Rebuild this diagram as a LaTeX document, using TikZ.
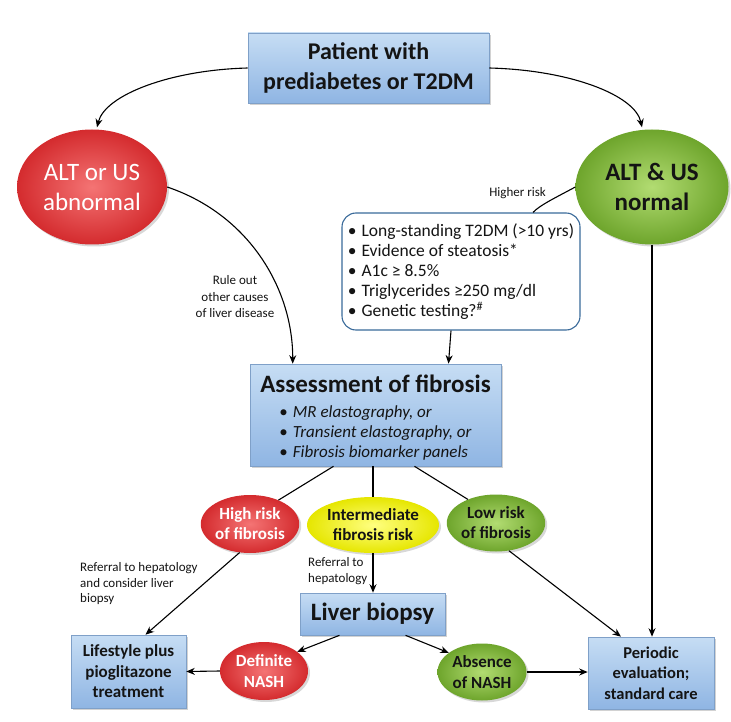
\documentclass[tikz,border=0pt]{standalone}
\usepackage{fontspec}
\setmainfont{Carlito}
\usetikzlibrary{shapes.geometric,arrows.meta,shadows,calc}
\newcommand\myfs[2]{\fontsize{#1}{#2}\selectfont}
\definecolor{boxtop}{HTML}{C6DDF4}
\definecolor{boxbot}{HTML}{8FB5E3}
\definecolor{boxline}{HTML}{7FA0C8}
\definecolor{critline}{HTML}{3A6A9A}
\definecolor{redin}{HTML}{F47474}
\definecolor{redout}{HTML}{D42B2E}
\definecolor{grnin}{HTML}{B2DC72}
\definecolor{grnout}{HTML}{6EA52C}
\definecolor{yelin}{HTML}{FFFF80}
\definecolor{yelout}{HTML}{E6E600}
\definecolor{txt}{HTML}{141414}
\tikzset{
  bluebox/.style={rectangle, draw=boxline, line width=0.6pt, top color=boxtop, bottom color=boxbot,
    drop shadow={opacity=0.35, shadow xshift=2pt, shadow yshift=-2pt},
    align=center, text=txt, inner sep=2pt},
  ball/.style={ellipse, inner sep=0pt, align=center, shading=radial,
    drop shadow={opacity=0.3, shadow xshift=2pt, shadow yshift=-2pt}},
  redball/.style={ball, inner color=redin, outer color=redout, text=white},
  grnball/.style={ball, inner color=grnin, outer color=grnout, text=txt},
  yelball/.style={ball, inner color=yelin, outer color=yelout, text=txt},
  critbox/.style={rectangle, rounded corners=14pt, draw=critline, line width=1.1pt, fill=white,
    align=left, text=txt, inner sep=0pt},
  arr/.style={-{Stealth[length=8.5pt,width=7pt]}, line width=1.1pt, black},
  ln/.style={line width=1.1pt, black},
  lbl/.style={text=txt, align=left, inner sep=0pt, font=\myfs{13}{15.5}},
}
\begin{document}
\begin{tikzpicture}[x=1pt,y=-1pt]
\path[use as bounding box, fill=white] (0,0) rectangle (731,722);

% boxes
\node[bluebox, minimum width=241, minimum height=70, font=\bfseries\myfs{24}{30}] (top) at (368.5,68)
  {Patient with\\prediabetes or T2DM};
\node[bluebox, minimum width=251, minimum height=102, font=\bfseries\myfs{25}{25}] (assess) at (375.5,415)
  {\rule{0pt}{26pt}Assessment of fibrosis\\
   {\mdseries\myfs{17}{20}\begin{tabular}[t]{@{}l@{}}
   •\hspace{5pt}\itshape MR elastography, or\\
   •\hspace{5pt}\itshape Transient elastography, or\\
   •\hspace{5pt}\itshape Fibrosis biomarker panels
   \end{tabular}}};
\node[bluebox, minimum width=145, minimum height=42, font=\bfseries\myfs{25}{28}] (liver) at (372.5,614)
  {Liver biopsy};
\node[bluebox, minimum width=115, minimum height=73, font=\bfseries\myfs{17}{20.5}] (life) at (128.5,671.5)
  {Lifestyle plus\\pioglitazone\\treatment};
\node[bluebox, minimum width=126, minimum height=72, font=\bfseries\myfs{16.5}{20.5}] (per) at (651,673)
  {Periodic\\evaluation;\\standard care};

% balls
\node[redball, minimum width=150, minimum height=115, font=\myfs{25}{30}] (alt) at (92,187)
  {ALT or US\\abnormal};
\node[grnball, minimum width=153, minimum height=115, font=\bfseries\myfs{25}{30}] (nrm) at (652,187)
  {ALT \& US\\normal};
\node[redball, minimum width=97, minimum height=58, font=\bfseries\myfs{17}{20}] (high) at (250,524)
  {High risk\\of fibrosis};
\node[yelball, minimum width=132, minimum height=56, font=\bfseries\myfs{17}{20}] (inter) at (373,525)
  {Intermediate\\fibrosis risk};
\node[grnball, minimum width=98, minimum height=57, font=\bfseries\myfs{17}{20}] (low) at (496,523)
  {Low risk\\of fibrosis};
\node[redball, minimum width=88, minimum height=58, font=\bfseries\myfs{17}{21}] (def) at (264,671)
  {Definite\\NASH};
\node[grnball, minimum width=89, minimum height=57, font=\bfseries\myfs{17}{21}] (abs) at (482,672)
  {Absence\\of NASH};

% criteria box
\node[critbox, minimum width=238, minimum height=117, font=\myfs{17.5}{20}] (crit) at (461,271.5)
  {•\hspace{5pt}Long-standing T2DM (>10 yrs)\\
   •\hspace{5pt}Evidence of steatosis*\\
   •\hspace{5pt}A1c ≥ 8.5\%\\
   •\hspace{5pt}Triglycerides ≥250 mg/dl\\
   •\hspace{5pt}Genetic testing?\textsuperscript{\#}};

% labels
\node[lbl, anchor=east] (hr) at (546,193) {Higher risk};
\node[lbl, align=center, font=\myfs{13}{16.5}] (ro) at (235,297) {Rule out\\other causes\\of liver disease};
\node[lbl, anchor=west] (rh) at (80,584) {Referral to hepatology\\and consider liver\\biopsy};
\node[lbl, anchor=west] (ri) at (308,571) {Referral to\\hepatology};

% connectors
\draw[arr] (top.west) .. controls (170,70) and (105,95) .. ($(alt.north)+(5,-2)$);
\draw[arr] (top.east) .. controls (570,70) and (635,95) .. ($(nrm.north)+(-10,-2)$);
\draw[ln] (nrm.west) .. controls (555,198) and (540,205) .. ($(crit.north)+(72,0)$);
\draw[arr] ($(crit.south)+(-10,0)$) -- ($(assess.north)+(73,0)$);
\draw[arr] (alt.east) .. controls (250,215) and (293,290) .. ($(assess.north west)+(43,0)$);
\draw[arr] (nrm.south) -- (nrm.south |- per.north);

\draw[ln] ($(assess.south)+(-42,0)$) -- (high.40);
\draw[ln] (assess.south -| inter.north) -- (inter.north);
\draw[ln] ($(assess.south)+(39,0)$) -- (low.140);

\draw[arr] (high.250) -- ($(life.north)+(17,0)$);
\draw[arr] (inter.south) -- (inter.south |- liver.north);
\draw[arr] (low.-65) -- ($(per.north)+(-30,0)$);

\draw[arr] ($(liver.south)+(-33,0)$) -- (def.30);
\draw[arr] ($(liver.south)+(33,0)$) -- (abs.150);
\draw[arr] (def.west) -- (life.east);
\draw[arr] (abs.east) -- (abs.east -| per.west);
\end{tikzpicture}
\end{document}
